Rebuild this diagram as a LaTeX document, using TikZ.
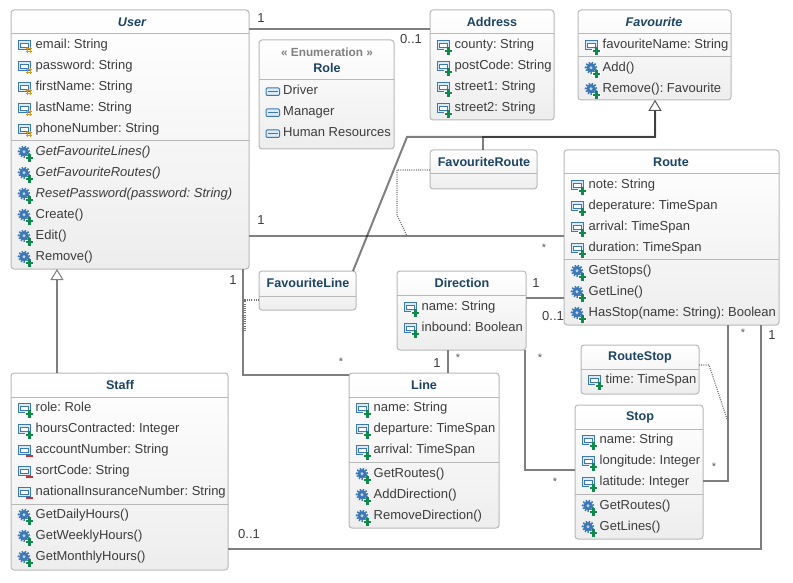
\documentclass[tikz,border=0pt]{standalone}
\usepackage{fontspec}
\setmainfont{Liberation Sans}
\usetikzlibrary{arrows.meta,calc}
\definecolor{titlecol}{HTML}{1C4467}
\definecolor{textcol}{HTML}{3C3C3C}
\definecolor{linecol}{HTML}{7F7F7F}
\definecolor{boxline}{HTML}{B8B8B8}
\definecolor{iconblue}{HTML}{3B78B5}
\definecolor{iconfill}{HTML}{DCE9F6}
\definecolor{plusgreen}{HTML}{0E8A4A}
\definecolor{hashorange}{HTML}{D9981A}
\definecolor{minusred}{HTML}{D03030}
\newcounter{autonode}
\newcommand{\fs}{\frenchspacing\fontsize{13}{14}\selectfont}
\newcommand{\fst}{\fontsize{12.6}{14}\selectfont}
\tikzset{
  x=1pt,y=-1pt,
  classbox/.style={draw=boxline,line width=1pt,rounded corners=3pt,top color=white,bottom color=black!7,outer sep=0pt,inner sep=0pt},
  divider/.style={draw=boxline,line width=1pt},
  titletext/.style={font=\fst\bfseries,text=titlecol,inner sep=0pt},
  stereotext/.style={font=\fontsize{11.8}{14}\selectfont\bfseries,text=black!50,inner sep=0pt},
  rowtext/.style={font=\fs,text=textcol,inner sep=0pt,anchor=base west},
  multi/.style={font=\fs,text=textcol,inner sep=0pt},
  multistar/.style={font=\fontsize{11}{12}\selectfont,text=black!65,inner sep=0pt},
  assoc/.style={draw=linecol,line width=2pt},
  inherit/.style={draw=black,draw opacity=.5,line width=2pt,-{Triangle[open,fill=white,length=11pt,width=13pt,line width=1pt]}},
  dotlink/.style={draw=black!55,line width=1.2pt,dash pattern=on 1pt off 1.2pt},
}
\newcommand{\classnode}[5]{%
  \pgfmathsetmacro{\cw}{#4-#2}\pgfmathsetmacro{\ch}{#5-#3}%
  \pgfmathsetmacro{\cx}{(#2+#4)/2}\pgfmathsetmacro{\cy}{(#3+#5)/2}%
  \node[classbox,minimum width=\cw pt,minimum height=\ch pt] (#1) at (\cx,\cy) {};%
}
\newcommand{\sepline}[2]{\draw[divider] (#1.west |- 0,#2) -- (#1.east |- 0,#2);}
\newcommand{\ctitle}[3]{\stepcounter{autonode}\node[titletext] (t\theautonode) at (#1,#2) {#3};}
\newcommand{\ctitlei}[3]{\stepcounter{autonode}\node[titletext,font=\fst\bfseries\itshape] (t\theautonode) at (#1,#2) {#3};}
\newcommand{\rowlabel}[3]{\stepcounter{autonode}\node[rowtext] (r\theautonode) at (#1+17.5,#2+4.4) {#3};}
\newcommand{\badgeplus}[2]{%
  \draw[white,line width=4pt] (#1-4.2,#2) -- (#1+4.2,#2) (#1,#2-4.2) -- (#1,#2+4.2);
  \draw[plusgreen,line width=2.7pt] (#1-3.6,#2) -- (#1+3.6,#2) (#1,#2-3.6) -- (#1,#2+3.6);}
\newcommand{\badgehash}[2]{%
  \draw[hashorange,line width=1.3pt] (#1-3.4,#2-1.4) -- (#1+3.4,#2-1.4) (#1-3.4,#2+1.6) -- (#1+3.4,#2+1.6)
    (#1-1.4,#2-3.4) -- (#1-1.4,#2+3.4) (#1+1.6,#2-3.4) -- (#1+1.6,#2+3.4);}
\newcommand{\badgeminus}[2]{%
  \fill[minusred] (#1-3.2,#2-1.2) rectangle (#1+3.2,#2+1.2);}
\newcommand{\attricon}[2]{%
  \draw[iconblue,fill=iconfill,line width=1pt] (#1+.5,#2-3.5) rectangle (#1+12.5,#2+5.5);
  \draw[iconblue,fill=white,line width=1pt] (#1+2.8,#2-.6) rectangle (#1+10.2,#2+3.2);}
\newcommand{\attrplus}[3]{\attricon{#1}{#2}\badgeplus{#1+11.5}{#2+7}\rowlabel{#1}{#2}{#3}}
\newcommand{\attrhash}[3]{\attricon{#1}{#2}\badgehash{#1+11}{#2+6}\rowlabel{#1}{#2}{#3}}
\newcommand{\attrminus}[3]{\attricon{#1}{#2}\badgeminus{#1+11.5}{#2+6.8}\rowlabel{#1}{#2}{#3}}
\newcommand{\opicon}[2]{%
  \draw[iconblue,line width=2pt,dash pattern=on 1.5pt off 1.5pt] (#1+6,#2+.8) circle (5.3pt);
  \fill[iconblue] (#1+6,#2+.8) circle (4.6pt);
  \fill[white!70!iconblue] (#1+6,#2+.8) circle (1.6pt);
  \badgeplus{#1+11.5}{#2+7}}
\newcommand{\oprow}[3]{\opicon{#1}{#2}\rowlabel{#1}{#2}{#3}}
\newcommand{\enumrow}[3]{%
  \draw[iconblue,fill=iconfill,line width=1pt,rounded corners=1pt] (#1,#2-2) rectangle (#1+13.5,#2+5.5);
  \draw[iconblue,line width=1pt] (#1+2,#2+1.8) -- (#1+11.5,#2+1.8);
  \stepcounter{autonode}\node[rowtext] (r\theautonode) at (#1+17,#2+4.4) {#3};}
\newcommand{\multlabel}[3]{\stepcounter{autonode}\node[multi] (m\theautonode) at (#1,#2) {#3};}
\newcommand{\starlabel}[2]{\stepcounter{autonode}\node[multistar] (m\theautonode) at (#1,#2) {*};}
\begin{document}
\begin{tikzpicture}
\useasboundingbox (0,0) rectangle (793,583);
% ---------- classes
\classnode{User}{11}{10}{249}{269}
\sepline{User}{34}\sepline{User}{141}
\ctitlei{132}{22}{User}
\attrhash{18}{44}{email: String}
\attrhash{18}{65}{password: String}
\attrhash{18}{86}{firstName: String}
\attrhash{18}{107}{lastName: String}
\attrhash{18}{128}{phoneNumber: String}
\oprow{18}{151}{\itshape GetFavouriteLines()}
\oprow{18}{172}{\itshape GetFavouriteRoutes()}
\oprow{18}{193}{\itshape ResetPassword(password: String)}
\oprow{18}{214}{Create()}
\oprow{18}{235}{Edit()}
\oprow{18}{256}{Remove()}

\classnode{Address}{430}{10}{554}{120}
\sepline{Address}{34}
\ctitle{492}{22}{Address}
\attrplus{437}{44}{county: String}
\attrplus{437}{65}{postCode: String}
\attrplus{437}{86}{street1: String}
\attrplus{437}{107}{street2: String}

\classnode{Role}{259}{40}{394}{149}
\sepline{Role}{80}
\stepcounter{autonode}\node[stereotext] (s\theautonode) at (327,52) {« Enumeration »};
\ctitle{327}{68}{Role}
\enumrow{266}{90}{Driver}
\enumrow{266}{111}{Manager}
\enumrow{266}{132}{Human Resources}

\classnode{Favourite}{578}{10}{731}{100}
\sepline{Favourite}{34}\sepline{Favourite}{57}
\ctitlei{654}{22}{Favourite}
\attrplus{585}{44}{favouriteName: String}
\oprow{585}{67}{Add()}
\oprow{585}{88}{Remove(): Favourite}

\classnode{FavouriteRoute}{430}{150}{537}{189}
\sepline{FavouriteRoute}{174}
\ctitle{484}{162}{FavouriteRoute}

\classnode{Route}{564}{150}{779}{325}
\sepline{Route}{174}\sepline{Route}{259}
\ctitle{671}{162}{Route}
\attrplus{571}{184}{note: String}
\attrplus{571}{205}{deperature: TimeSpan}
\attrplus{571}{226}{arrival: TimeSpan}
\attrplus{571}{247}{duration: TimeSpan}
\oprow{571}{270}{GetStops()}
\oprow{571}{291}{GetLine()}
\oprow{571}{312}{HasStop(name: String): Boolean}

\classnode{FavouriteLine}{259}{271}{356}{310}
\sepline{FavouriteLine}{296}
\ctitle{308}{283}{FavouriteLine}

\classnode{Direction}{397}{271}{526}{350}
\sepline{Direction}{295}
\ctitle{462}{283}{Direction}
\attrplus{404}{306}{name: String}
\attrplus{404}{327}{inbound: Boolean}

\classnode{Line}{349}{373}{499}{528}
\sepline{Line}{397}\sepline{Line}{462}
\ctitle{424}{385}{Line}
\attrplus{356}{407}{name: String}
\attrplus{356}{428}{departure: TimeSpan}
\attrplus{356}{449}{arrival: TimeSpan}
\oprow{356}{473}{GetRoutes()}
\oprow{356}{494}{AddDirection()}
\oprow{356}{515}{RemoveDirection()}

\classnode{RouteStop}{581}{345}{699}{394}
\sepline{RouteStop}{369}
\ctitle{640}{357}{RouteStop}
\attrplus{588}{379}{time: TimeSpan}

\classnode{Stop}{575}{405}{703}{539}
\sepline{Stop}{429}\sepline{Stop}{494}
\ctitle{640}{417}{Stop}
\attrplus{582}{439}{name: String}
\attrplus{582}{460}{longitude: Integer}
\attrplus{582}{481}{latitude: Integer}
\oprow{582}{505}{GetRoutes()}
\oprow{582}{526}{GetLines()}

\classnode{Staff}{11}{373}{228}{570}
\sepline{Staff}{397}\sepline{Staff}{504}
\ctitle{120}{385}{Staff}
\attrplus{18}{407}{role: Role}
\attrplus{18}{428}{hoursContracted: Integer}
\attrminus{18}{449}{accountNumber: String}
\attrminus{18}{470}{sortCode: String}
\attrminus{18}{491}{nationalInsuranceNumber: String}
\oprow{18}{514}{GetDailyHours()}
\oprow{18}{535}{GetWeeklyHours()}
\oprow{18}{556}{GetMonthlyHours()}
% ---------- bend points
\coordinate (favbendL) at (407,137);
\coordinate (favbendR) at (655,137);
\coordinate (frdot1) at (397,170);
\coordinate (frdot2) at (397,215);
\coordinate (frdot3) at (407,236);
\coordinate (fldot1) at (245,300);
\coordinate (fldot2) at (245,332);
\coordinate (rsdot1) at (709,365);
\coordinate (rsdot2) at (728,422);
% ---------- connectors
\draw[assoc] ([yshift=-19pt]User.north east) -- ([yshift=-19pt]Address.north west);
\draw[assoc] (User.east |- 0,236) -- (Route.west |- 0,236);
\draw[assoc] ([xshift=-6pt]User.south east) |- (Line.west |- 0,375);
\draw[assoc] (Direction.east |- 0,298) -- (Route.west |- 0,298);
\draw[assoc] (Direction.south -| 448,0) -- (Line.north -| 448,0);
\draw[assoc] ([xshift=-1pt]Direction.south east) |- (Stop.west |- 0,470);
\draw[assoc] (Route.south -| 728,0) |- (Stop.east |- 0,481);
\draw[assoc] (Staff.east |- 0,548.5) -| ([xshift=-18pt]Route.south east);
\draw[inherit] (Staff.north -| 57,0) -- (User.south -| 57,0);
\draw[inherit] ([xshift=-3pt]FavouriteLine.north east) -- (favbendL) -- (favbendR) -- (Favourite.south -| 655,0);
\draw[inherit] (FavouriteRoute.north -| 483,0) |- (favbendR) -- (Favourite.south -| 655,0);
\draw[dotlink] (FavouriteRoute.west |- 0,170) -- (frdot1) -- (frdot2) -- (frdot3);
\draw[dotlink] (FavouriteLine.west |- 0,300) -- (fldot1) -- (fldot2);
\draw[dotlink] (RouteStop.east |- 0,365) -- (rsdot1) -- (rsdot2);
% ---------- multiplicities
\multlabel{261}{18}{1}
\multlabel{411}{39}{0..1}
\multlabel{261}{220}{1}
\starlabel{544}{248}
\multlabel{233}{280}{1}
\starlabel{341}{362}
\multlabel{536}{283}{1}
\multlabel{553}{316}{0..1}
\multlabel{437}{363}{1}
\starlabel{458}{358}
\starlabel{540}{358}
\starlabel{555}{482}
\starlabel{743}{333}
\starlabel{714}{467}
\multlabel{772}{335}{1}
\multlabel{249}{534}{0..1}
\end{tikzpicture}
\end{document}
